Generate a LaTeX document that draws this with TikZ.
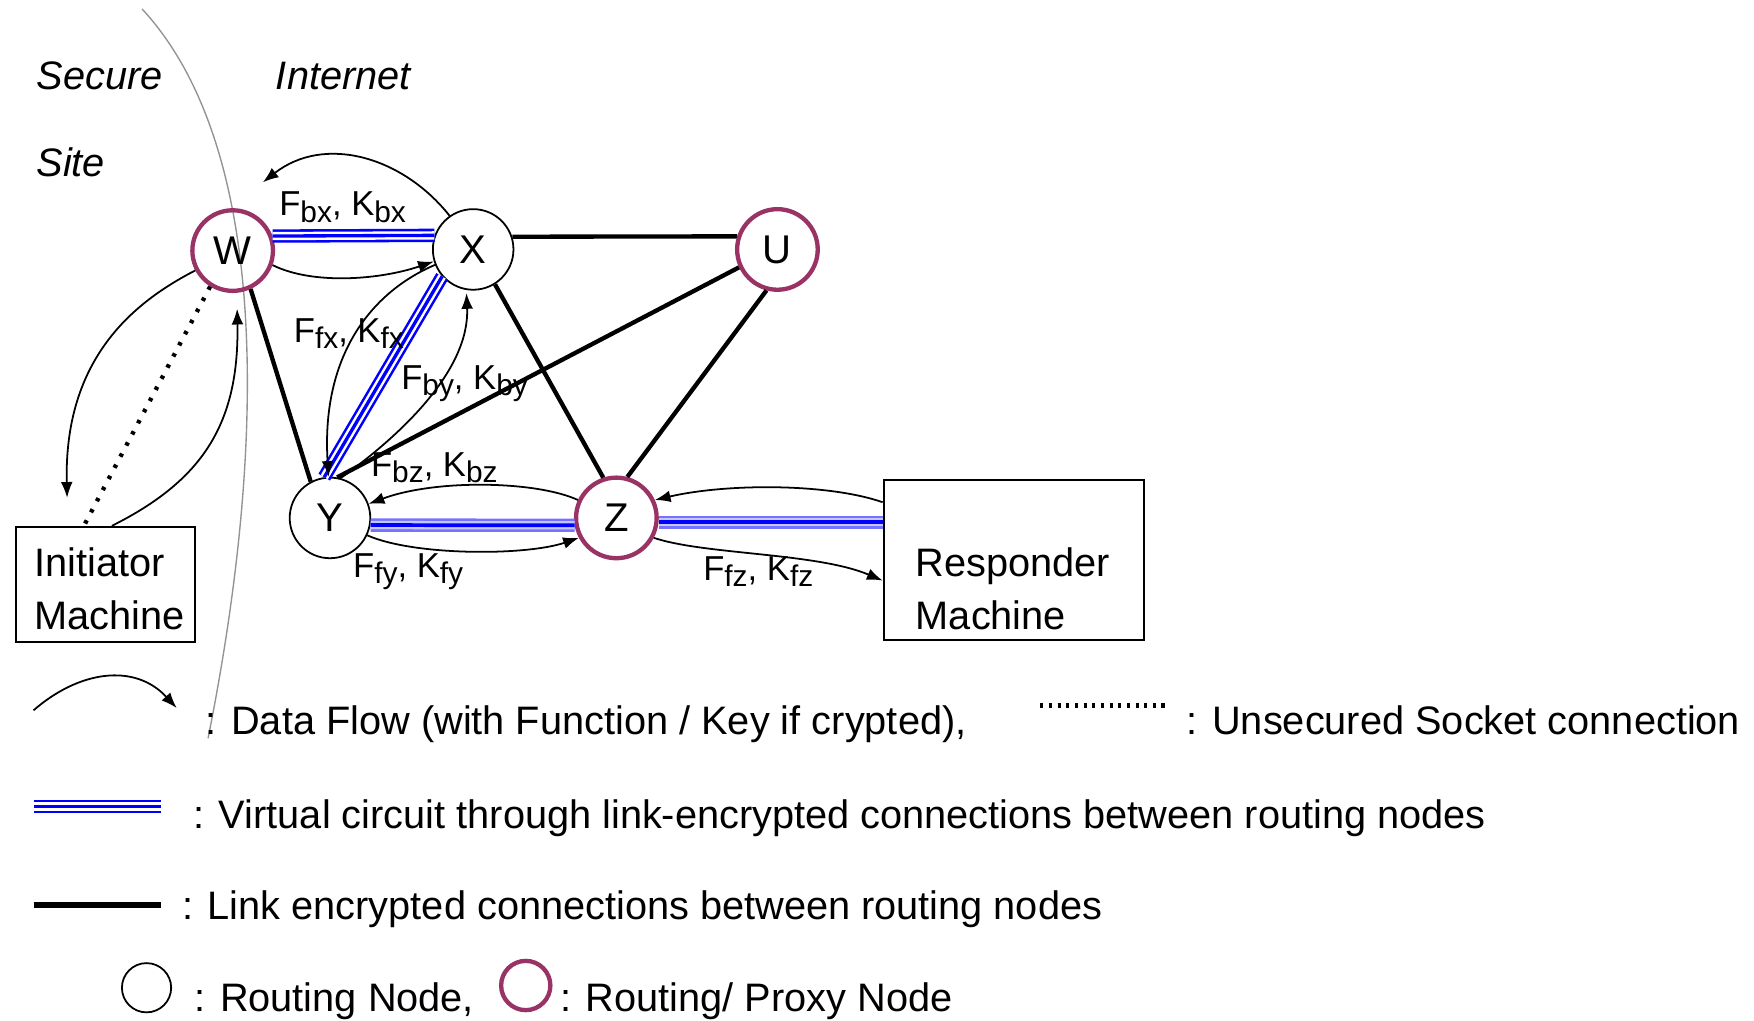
\documentclass[tikz,border=0pt]{standalone}
\usepackage{fontspec}
\setmainfont{Liberation Sans}
\usetikzlibrary{arrows.meta}
\definecolor{proxy}{RGB}{153,51,102}
\newcommand\FKsub[1]{\raisebox{-0.35ex}{\fontsize{7.6}{8}\selectfont #1}}
\newcommand\FK[1]{F\FKsub{#1}, K\FKsub{#1}}
\tikzset{
 rnode/.style={circle, draw=black, line width=0.45pt, minimum size=0.72cm, inner sep=0pt, font=\fontsize{10.2}{12}\selectfont},
 pnode/.style={rnode, draw=proxy, line width=1.1pt},
 machine/.style={draw, line width=0.5pt, inner sep=0pt},
 link/.style={line width=1.1pt},
 vc/.style={line width=3.4pt, draw=blue, postaction={draw=white, line width=2.1pt}, postaction={draw=blue, line width=0.85pt}},
 vcsoft/.style={line width=3.4pt, draw=blue!55, postaction={draw=blue!22, line width=2.1pt}, postaction={draw=blue, line width=0.95pt}},
 flow/.style={line width=0.45pt, -{Latex[length=4pt,width=3pt]}},
 sock/.style={line width=1.1pt, dash pattern=on 0.9pt off 2.3pt},
 socklg/.style={line width=1.3pt, dash pattern=on 0.8pt off 1.4pt},
 lbl/.style={font=\fontsize{8.8}{10}\selectfont, inner sep=0pt, anchor=base west},
 txt/.style={font=\fontsize{10.1}{13.7}\selectfont, inner sep=0pt, anchor=base west},
 bound/.style={draw=gray!85, line width=0.35pt},
}
\begin{document}
\begin{tikzpicture}[x=0.01cm,y=-0.01cm]
\useasboundingbox (0,0) rectangle (1568,912);

% region texts and boundary
\node[txt] (secure) at (32,80) {\itshape Secure};
\node[txt] (site) at (32,158) {\itshape Site};
\node[txt] (internet) at (246,80) {\itshape Internet};
\draw[bound] (127,8) .. controls (240,130) and (240,390) .. (186,660);

% nodes
\node[pnode] (W) at (208,224) {W};
\node[rnode] (X) at (423,223) {X};
\node[pnode] (U) at (695,223) {U};
\node[rnode] (Y) at (295,463) {Y};
\node[pnode] (Z) at (551,463) {Z};
\node[machine, minimum width=1.6cm, minimum height=1.03cm] (init) at (94,522.5) {};
\node[txt] (init1) at (30,515) {Initiator};
\node[txt] (init2) at (30,563) {Machine};
\node[machine, minimum width=2.33cm, minimum height=1.43cm] (resp) at (906.5,500.5) {};
\node[txt] (resp1) at (818,515) {Responder};
\node[txt] (resp2) at (818,563) {Machine};

% link encrypted connections
\draw[link] (X.18) -- (U.162);
\draw[link] (W.-65) -- (Y.118);
\draw[link] (X.-58) -- (Z.108);
\draw[link] (U.205) -- (Y.80);
\draw[link] (U.-105) -- (Z.75);

% virtual circuit
\draw[vc] (W.20) -- (X.160);
\draw[vc] (X.221) -- (Y.98);
\draw[vcsoft] (Y.-10) -- (Z.190);
\draw[vcsoft] (Z.-6) -- (Z.-6 -| resp.west);

% unsecured socket
\draw[sock] (W.-122) -- ([xshift=-0.19cm]init.north);

% data flows
\coordinate (a1) at (235,163);
\draw[flow] (X.125) .. controls (360,140) and (290,120) .. (a1);
\draw[flow] (W.-20) .. controls (280,255) and (340,250) .. (X.197);
\coordinate (a3) at (60,445);
\draw[flow] (W.208) .. controls (120,270) and (57,320) .. (a3);
\coordinate (a4) at (212,276);
\draw[flow] ([xshift=0.06cm]init.north) .. controls (180,430) and (214,380) .. (a4);
\draw[flow] (X.202) .. controls (330,262) and (287,320) .. (Y.92);
\coordinate (a7) at (417,262);
\draw[flow] (Y.75) .. controls (360,388) and (420,330) .. (a7);
\draw[flow] (Z.155) .. controls (480,430) and (390,428) .. (Y.20);
\draw[flow] (Y.-25) .. controls (370,497) and (470,497) .. (Z.208);
\draw[flow] ([yshift=0.515cm]resp.west) .. controls (740,432) and (650,432) .. (Z.25);
\draw[flow] (Z.-28) .. controls (630,496) and (730,494) .. ([yshift=-0.185cm]resp.west);

% labels
\node[lbl] (lbx) at (249,193) {\FK{bx}};
\node[lbl] (lfx) at (262,306) {\FK{fx}};
\node[lbl] (lby) at (358,348) {\FK{by}};
\node[lbl] (lbz) at (331,426) {\FK{bz}};
\node[lbl] (lfy) at (315,516) {\FK{fy}};
\node[lbl] (lfz) at (628,519) {\FK{fz}};

% legend
\coordinate (lg1s) at (30,635);
\coordinate (lg1e) at (158,633);
\draw[flow] (lg1s) .. controls (70,600) and (120,592) .. (lg1e);
\node[txt] (leg1) at (183,657) {: Data Flow (with Function / Key if crypted),};
\coordinate (lg2s) at (930,631);
\coordinate (lg2e) at (1043,631);
\draw[socklg] (lg2s) -- (lg2e);
\node[txt] (leg2) at (1060,657) {: Unsecured Socket connection};
\coordinate (lg3s) at (30,721);
\coordinate (lg3e) at (144,721);
\draw[vc] (lg3s) -- (lg3e);
\node[txt] (leg3) at (172,741) {: Virtual circuit through link-encrypted connections between routing nodes};
\coordinate (lg4s) at (30,809);
\coordinate (lg4e) at (144,809);
\draw[link, line width=1.5pt] (lg4s) -- (lg4e);
\node[txt] (leg4) at (162,822) {: Link encrypted connections between routing nodes};
\node[rnode, minimum size=0.44cm] (lr) at (131,883) {};
\node[txt] (leg5) at (173,904) {: Routing Node,};
\node[pnode, minimum size=0.44cm] (lp) at (470,881) {};
\node[txt] (leg6) at (500,904) {: Routing/ Proxy Node};
\end{tikzpicture}
\end{document}
